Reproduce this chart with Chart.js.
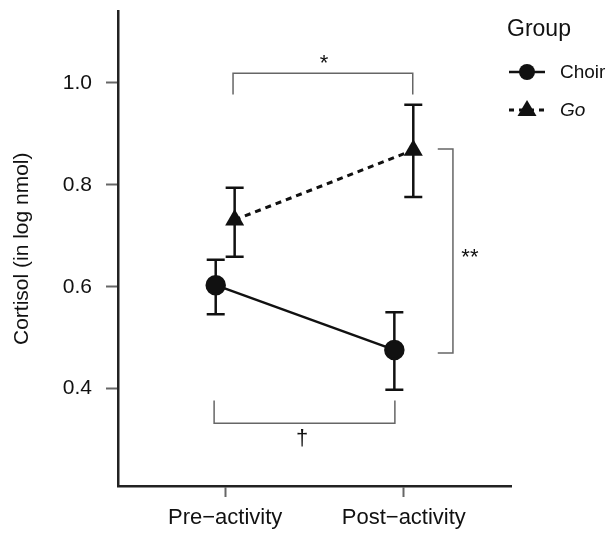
<!DOCTYPE html>
<html>
<head>
<meta charset="utf-8">
<script src="https://cdn.jsdelivr.net/npm/chart.js@4"></script>
<style>
  html, body { margin: 0; padding: 0; background: #fff; }
  #wrap { width: 609px; height: 533px; }
</style>
</head>
<body>
<div id="wrap"><canvas id="chart"></canvas></div>
<script>
// data
const phases = ["Pre\u2212activity", "Post\u2212activity"];
const groups = ["Choir", "Go"];
const choirMean = [0.603, 0.476];
const choirLow = [0.546, 0.398];
const choirHigh = [0.653, 0.550];
const goMean = [0.731, 0.868];
const goLow = [0.659, 0.776];
const goHigh = [0.794, 0.957];
const yTicks = [0.4, 0.6, 0.8, 1.0];
const dodge = 0.053;

// significance brackets (data units)
const brackets = [
    { x1: 1.044, x2: 2.05, y: 1.019, tip: 0.977, label: "*", lx: 1.553, ly: 1.038 },
    { x1: 0.938, x2: 1.95, y: 0.332, tip: 0.377, label: "\u2020", lx: 1.43, ly: 0.302 }
];
const sideBracket = { x1: 2.19, x2: 2.275, y1: 0.870, y2: 0.470, label: "**", lx: 2.37, ly: 0.656 };

const FONT = "'Liberation Sans', Arial, Helvetica, sans-serif";

function points(means, offset) {
    return means.map((v, i) => ({ x: i + 1 + offset, y: v }));
}

const errorBars = {
    id: "errorBars",
    beforeDatasetsDraw(chart) {
        const { ctx, scales: { x, y } } = chart;
        const sets = [[choirLow, choirHigh, -dodge], [goLow, goHigh, dodge]];
        ctx.save();
        ctx.strokeStyle = "#111";
        ctx.lineWidth = 2.5;
        sets.forEach(([low, high, off]) => {
            low.forEach((lo, i) => {
                const px = x.getPixelForValue(i + 1 + off);
                const p1 = y.getPixelForValue(lo);
                const p2 = y.getPixelForValue(high[i]);
                ctx.beginPath();
                ctx.moveTo(px, p1); ctx.lineTo(px, p2);
                ctx.moveTo(px - 9, p1); ctx.lineTo(px + 9, p1);
                ctx.moveTo(px - 9, p2); ctx.lineTo(px + 9, p2);
                ctx.stroke();
            });
        });
        ctx.restore();
    }
};

const annotations = {
    id: "annotations",
    afterDraw(chart) {
        const { ctx, scales: { x, y } } = chart;
        ctx.save();
        ctx.strokeStyle = "#666";
        ctx.lineWidth = 1.5;
        ctx.fillStyle = "#111";
        ctx.textAlign = "center";
        ctx.textBaseline = "middle";
        ctx.font = "22px " + FONT;
        brackets.forEach(b => {
            const a = x.getPixelForValue(b.x1), c = x.getPixelForValue(b.x2);
            const py = y.getPixelForValue(b.y), pt = y.getPixelForValue(b.tip);
            ctx.beginPath();
            ctx.moveTo(a, pt); ctx.lineTo(a, py); ctx.lineTo(c, py); ctx.lineTo(c, pt);
            ctx.stroke();
            ctx.fillText(b.label, x.getPixelForValue(b.lx), y.getPixelForValue(b.ly));
        });
        const s = sideBracket;
        const a = x.getPixelForValue(s.x1), c = x.getPixelForValue(s.x2);
        const p1 = y.getPixelForValue(s.y1), p2 = y.getPixelForValue(s.y2);
        ctx.beginPath();
        ctx.moveTo(a, p1); ctx.lineTo(c, p1); ctx.lineTo(c, p2); ctx.lineTo(a, p2);
        ctx.stroke();
        ctx.fillText(s.label, x.getPixelForValue(s.lx), y.getPixelForValue(s.ly));

        // legend
        ctx.textAlign = "left";
        ctx.fillStyle = "#111";
        ctx.font = "23px " + FONT;
        ctx.fillText("Group", 507, 30);
        ctx.strokeStyle = "#111";
        ctx.lineWidth = 2.5;
        ctx.beginPath();
        ctx.moveTo(509, 72); ctx.lineTo(545, 72);
        ctx.stroke();
        ctx.beginPath();
        ctx.arc(527, 72, 8, 0, Math.PI * 2);
        ctx.fill();
        ctx.setLineDash([5, 5]);
        ctx.lineWidth = 3;
        ctx.beginPath();
        ctx.moveTo(509, 110); ctx.lineTo(545, 110);
        ctx.stroke();
        ctx.setLineDash([]);
        ctx.beginPath();
        ctx.moveTo(527, 100); ctx.lineTo(536.5, 116); ctx.lineTo(517.5, 116);
        ctx.closePath();
        ctx.fill();
        ctx.font = "19px " + FONT;
        ctx.fillText(groups[0], 560, 73);
        ctx.font = "italic 19px " + FONT;
        ctx.fillText(groups[1], 560, 111);
        ctx.restore();
    }
};

new Chart("chart", {
    type: "scatter",
    data: {
        datasets: [
            {
                label: groups[0],
                data: points(choirMean, -dodge),
                showLine: true,
                borderColor: "#111",
                backgroundColor: "#111",
                borderWidth: 2.5,
                pointStyle: "circle",
                pointRadius: 9,
                pointHoverRadius: 9
            },
            {
                label: groups[1],
                data: points(goMean, dodge),
                showLine: true,
                borderColor: "#111",
                backgroundColor: "#111",
                borderWidth: 3,
                borderDash: [6, 5],
                pointStyle: "triangle",
                pointRadius: 11,
                pointHoverRadius: 11,
                pointBorderWidth: 0
            }
        ]
    },
    options: {
        responsive: true,
        maintainAspectRatio: false,
        animation: false,
        events: [],
        layout: { padding: { top: 8, right: 98, left: 0, bottom: 0 } },
        plugins: { legend: { display: false }, tooltip: { enabled: false } },
        scales: {
            x: {
                type: "linear",
                min: 0.4,
                max: 2.6,
                afterBuildTicks: s => { s.ticks = phases.map((p, i) => ({ value: i + 1 })); },
                afterFit: s => { s.height = 47; s.paddingLeft = 0; s.paddingRight = 0; },
                ticks: {
                    callback: v => phases[v - 1],
                    font: { family: FONT, size: 22 },
                    color: "#111",
                    padding: 8,
                    maxRotation: 0
                },
                grid: { drawOnChartArea: false, tickLength: 11, tickColor: "#666", tickWidth: 2 },
                border: { color: "#222", width: 2.5 }
            },
            y: {
                min: 0.209,
                max: 1.14,
                afterBuildTicks: s => { s.ticks = yTicks.map(v => ({ value: v })); },
                afterFit: s => { s.width = 118; s.paddingTop = 0; s.paddingBottom = 0; },
                ticks: {
                    callback: v => v.toFixed(1),
                    font: { family: FONT, size: 21 },
                    color: "#111",
                    padding: 14
                },
                title: {
                    display: true,
                    text: "Cortisol (in log nmol)",
                    font: { family: FONT, size: 21 },
                    color: "#111",
                    padding: { top: 10, bottom: 0 }
                },
                grid: { drawOnChartArea: false, tickLength: 12, tickColor: "#666", tickWidth: 2 },
                border: { color: "#222", width: 2.5 }
            }
        }
    },
    plugins: [errorBars, annotations]
});
</script>
</body>
</html>
